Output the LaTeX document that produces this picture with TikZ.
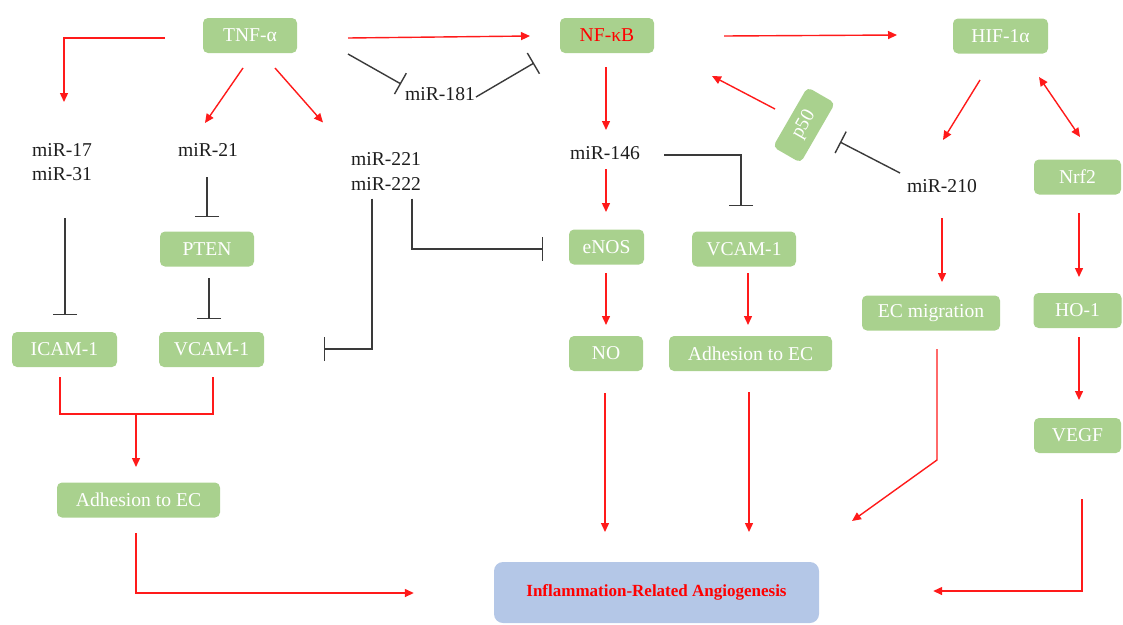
\documentclass[tikz,border=0pt]{standalone}
\usepackage{fontspec}
\setmainfont{Liberation Serif}
\usetikzlibrary{arrows.meta,calc}
\definecolor{boxgreen}{HTML}{A9D18E}
\definecolor{boxblue}{HTML}{B4C7E7}
\definecolor{arrred}{HTML}{FF1A1A}
\definecolor{inhk}{HTML}{3A3A3A}
\definecolor{labk}{HTML}{1E1E1E}
\newcommand\labfs{\fontsize{19.6}{24.5}\selectfont}
\tikzset{
  box/.style={rectangle, rounded corners=5pt, fill=boxgreen, text=white, font=\labfs,
    inner sep=0pt, minimum height=35pt, minimum width=#1},
  box/.default=90pt,
  lab/.style={font=\labfs, text=labk, inner sep=0pt, align=center},
  ra/.style={draw=arrred, line width=1.4pt, -{Triangle[length=9pt,width=8pt]}},
  rl/.style={draw=arrred, line width=1.4pt},
  inh/.style={draw=inhk, line width=1.4pt, -{Bar[width=24pt]}},
}
\begin{document}
\begin{tikzpicture}[x=1pt,y=-1pt]
\useasboundingbox (0,0) rectangle (1123,624);
% nodes
\node[box=94pt] (tnf) at (250,35.5) {TNF-α};
\node[box=94pt, text=red] (nfkb) at (607,35.5) {NF-κB};
\node[box=95pt] (hif) at (1000.5,36) {HIF-1α};
\node[box=69pt, minimum height=32pt, rotate=60] (p50) at (804,125) {p50};
\node[box=87pt] (nrf2) at (1077.5,177) {Nrf2};
\node[box=94pt] (pten) at (207,249) {PTEN};
\node[box=75pt] (enos) at (606.5,247) {eNOS};
\node[box=104pt] (vcamm) at (744,249) {VCAM-1};
\node[box=138pt] (ecmig) at (931,313) {EC migration};
\node[box=88pt] (ho1) at (1077.5,310.5) {HO-1};
\node[box=105pt] (icam) at (64.5,349.5) {ICAM-1};
\node[box=105pt] (vcaml) at (211.5,349.5) {VCAM-1};
\node[box=74pt] (no) at (606,353.5) {NO};
\node[box=163pt] (adhm) at (750.5,353.5) {Adhesion to EC};
\node[box=87pt] (vegf) at (1077.5,435.5) {VEGF};
\node[box=163pt] (adhl) at (138.5,500) {Adhesion to EC};
\node[rectangle, rounded corners=9pt, fill=boxblue, minimum width=325pt, minimum height=61pt,
  inner sep=0pt, text=red, font=\fontsize{17}{20}\selectfont\bfseries] (infl) at (656.5,592.5)
  {Inflammation-Related Angiogenesis};
% labels
\node[lab] (mir1731) at (62,162) {miR-17\\miR-31};
\node[lab] (mir21) at (208,150) {miR-21};
\node[lab] (mir221) at (386,171.5) {miR-221\\miR-222};
\node[lab] (mir181) at (440,94) {miR-181};
\node[lab] (mir146) at (605,153) {miR-146};
\node[lab] (mir210) at (942,186.5) {miR-210};
% connectors from TNF-alpha
\draw[ra] ($(tnf.west)+(-38,2.5)$) -| ($(mir1731)+(2,-60)$);
\draw[ra] ($(tnf)+(-7,32.5)$) -- ($(mir21)+(-3,-27)$);
\draw[ra] ($(tnf)+(25,32.5)$) -- ($(mir221)+(-63,-49)$);
\draw[ra] ($(tnf)+(98,2.5)$) -- ($(nfkb)+(-77,0.5)$);
\draw[inh] ($(tnf)+(98,18.5)$) -- ($(mir181)+(-39,-10)$);
\draw[inh] ($(mir181)+(36,3)$) -- ($(nfkb)+(-73,27.5)$);
% NF-kB branch
\draw[ra] ($(nfkb)+(117,0.5)$) -- ($(hif)+(-103.5,-1)$);
\draw[ra] ($(nfkb)+(-1,31.5)$) -- ($(mir146)+(1,-23)$);
\draw[ra] ($(mir146)+(1,16)$) -- ($(enos)+(-0.5,-35)$);
\draw[inh] ($(mir146)+(59,2)$) -| ($(vcamm)+(-3,-43)$);
\draw[ra] ($(p50)+(-29,-16)$) -- ($(nfkb)+(105,40.5)$);
\draw[inh] ($(mir210)+(-42,-13.5)$) -- ($(p50)+(36,17)$);
% HIF branch
\draw[ra] ($(hif)+(-20.5,44)$) -- ($(mir210)+(1,-46.5)$);
\draw[ra, {Triangle[length=9pt,width=8pt]}-{Triangle[length=9pt,width=8pt]}] ($(hif)+(38.5,41)$) -- ($(nrf2)+(2.5,-40)$);
\draw[ra] ($(mir210)+(0,31.5)$) -- ($(ecmig)+(11,-31)$);
\draw[ra] ($(nrf2)+(1.5,36)$) -- ($(ho1)+(1.5,-33.5)$);
\draw[ra] ($(ho1)+(1.5,26.5)$) -- ($(vegf)+(1.5,-35.5)$);
\draw[ra] ($(vegf)+(4.5,63.5)$) |- ($(infl.east)+(114,-1.5)$);
\draw[ra] ($(ecmig)+(6,36)$) -- ($(ecmig)+(6,147)$) -- ($(infl)+(195.5,-71.5)$);
% middle column
\draw[ra] ($(enos)+(-0.5,26)$) -- ($(no)+(0,-28.5)$);
\draw[ra] ($(vcamm)+(4,24)$) -- ($(adhm)+(-2.5,-28.5)$);
\draw[ra] ($(no)+(-1,39.5)$) -- ($(infl)+(-51.5,-60.5)$);
\draw[ra] ($(adhm)+(-1.5,38.5)$) -- ($(infl)+(92.5,-60.5)$);
% left part
\draw[inh] ($(mir1731)+(3,56)$) -- ($(icam)+(0.5,-34.5)$);
\draw[inh] ($(mir21)+(-1,27)$) -- ($(pten)+(0,-32)$);
\draw[inh] ($(pten)+(2,29)$) -- ($(vcaml)+(-2.5,-30.5)$);
\draw[inh] ($(mir221)+(-14,27)$) |- ($(vcaml)+(112.5,-0.5)$);
\draw[inh] ($(mir221)+(26,27)$) |- ($(enos)+(-63.5,2)$);
\draw[rl] ($(icam)+(-4.5,27.5)$) |- ($(vcaml)+(1.5,64.5)$) -- ($(vcaml)+(1.5,27.5)$);
\draw[ra] ($(adhl)+(-2.5,-86)$) -- ($(adhl)+(-2.5,-33)$);
\draw[ra] ($(adhl)+(-2.5,33)$) |- ($(infl.west)+(-80,0.5)$);
\end{tikzpicture}
\end{document}
